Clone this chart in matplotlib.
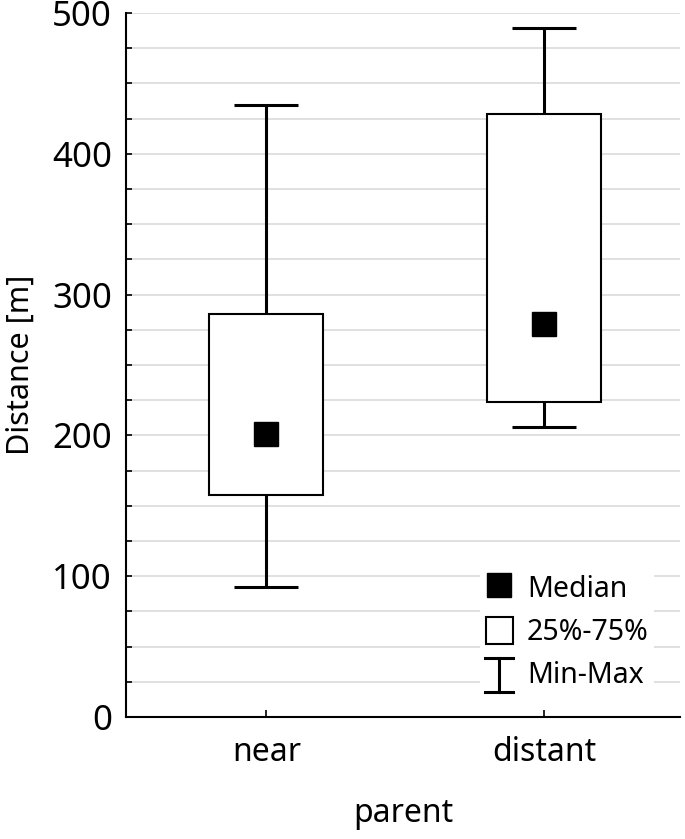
import numpy as np
import matplotlib
matplotlib.use('Agg')
import matplotlib.pyplot as plt
from matplotlib.lines import Line2D
from matplotlib.patches import Patch
from matplotlib.legend_handler import HandlerBase
from matplotlib.ticker import MultipleLocator

plt.rcParams['font.family'] = ['Noto Sans', 'DejaVu Sans']

groups = ['near', 'distant']
mins = [92, 206]
q1 = [158, 224]
medians = [201, 279]
q3 = [286, 428]
maxs = [435, 489]


class MinMaxHandler(HandlerBase):
    def create_artists(self, legend, orig_handle, xdescent, ydescent,
                       width, height, fontsize, trans):
        cx = width / 2 - xdescent
        top = height * 1.05 - ydescent
        bot = -height * 0.2 - ydescent
        hw = width * 0.52
        lines = [
            Line2D([cx, cx], [bot, top]),
            Line2D([cx - hw, cx + hw], [top, top]),
            Line2D([cx - hw, cx + hw], [bot, bot]),
        ]
        for ln in lines:
            ln.set_color('black')
            ln.set_linewidth(2.2)
            ln.set_transform(trans)
        return lines


fig = plt.figure(figsize=(6.85, 8.39), dpi=100)
ax = fig.add_axes([0.184, 0.1454, 0.809, 0.8391])

x = np.arange(len(groups))
med = np.array(medians)
yerr = [med - np.array(mins), np.array(maxs) - med]
ax.errorbar(x, med, yerr=yerr, fmt='none', ecolor='black', elinewidth=2.2,
            capsize=23, capthick=2.2, zorder=2)
ax.bar(x, np.array(q3) - np.array(q1), bottom=q1, width=0.41, color='white',
       edgecolor='black', linewidth=1.5, zorder=3)
ax.plot(x, med, 's', color='black', markersize=17, zorder=4)

ax.set_xlim(-0.505, 1.49)
ax.set_ylim(0, 500)
ax.set_xticks(x)
ax.set_xticklabels(groups)
ax.yaxis.set_major_locator(MultipleLocator(100))
ax.yaxis.set_minor_locator(MultipleLocator(25))
ax.grid(True, axis='y', which='both', color='#dadada', linewidth=1.2, zorder=0)
ax.set_axisbelow(True)
ax.yaxis.get_gridlines()[-1].set_visible(False)

for s in ['top', 'right']:
    ax.spines[s].set_visible(False)
for s in ['left', 'bottom']:
    ax.spines[s].set_linewidth(1.5)

ax.tick_params(axis='y', which='both', direction='in', length=4, width=1.2,
               labelsize=25, pad=10)
ax.tick_params(axis='x', direction='in', length=5, width=1.2, labelsize=23, pad=14)
ax.set_ylabel('Distance [m]', fontsize=22, labelpad=12)
ax.set_xlabel('parent', fontsize=23, labelpad=20)

h_med = Line2D([], [], marker='s', color='black', linestyle='none', markersize=17)
h_box = Patch(facecolor='white', edgecolor='black', linewidth=1.5)
h_mm = object()
leg = ax.legend([h_med, h_box, h_mm], ['Median', '25%-75%', 'Min-Max'],
                handler_map={object: MinMaxHandler()},
                loc='lower right', bbox_to_anchor=(0.979, 0.01), fontsize=20.5,
                handlelength=0.95, handleheight=1.1, handletextpad=0.5,
                labelspacing=0.45, frameon=True, fancybox=False,
                framealpha=1, facecolor='white', edgecolor='none', borderpad=0.2)
leg.set_zorder(5)

fig.savefig('out.png', dpi=100)
